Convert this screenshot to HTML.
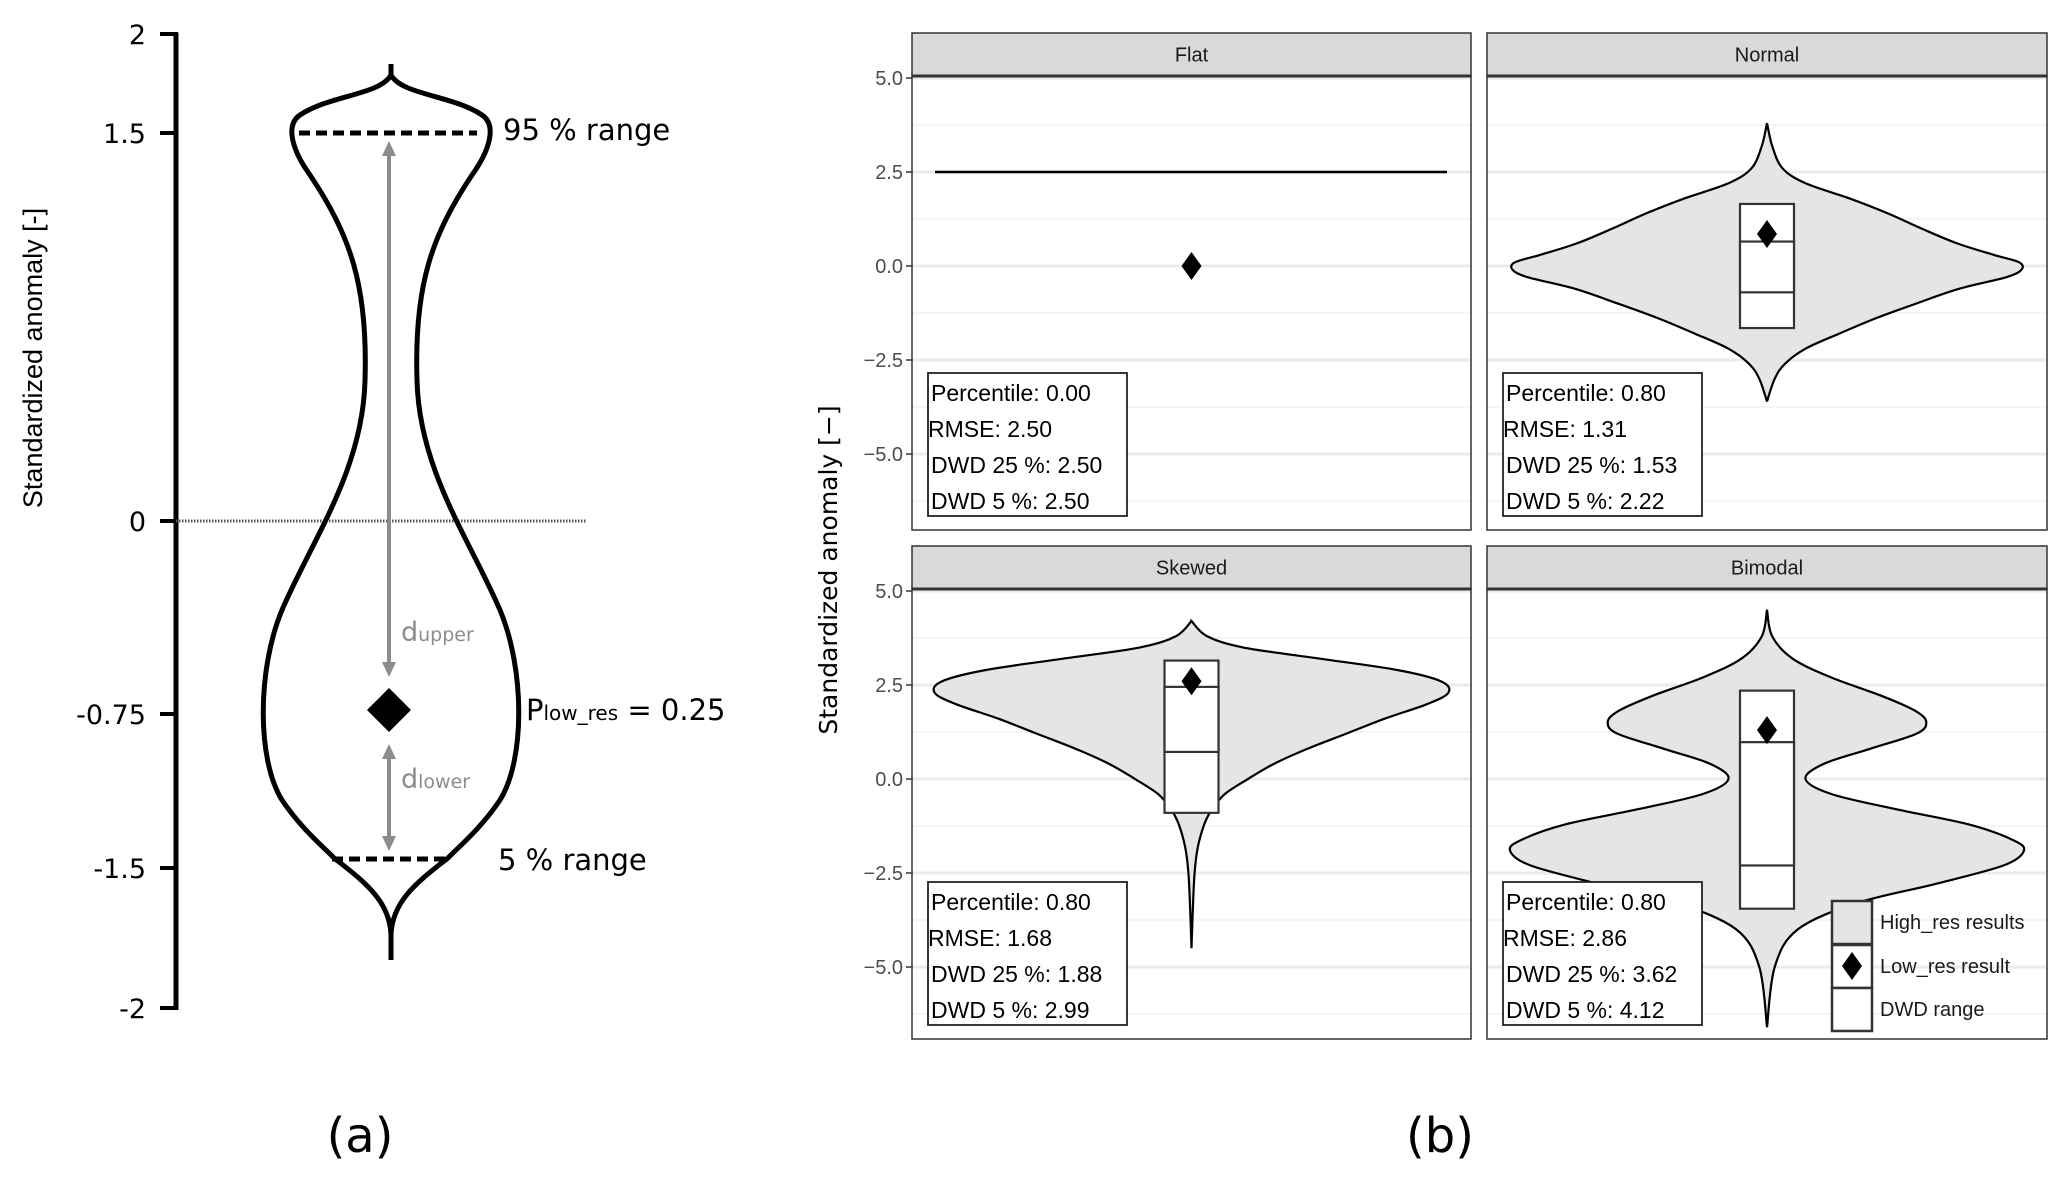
<!DOCTYPE html>
<html><head><meta charset="utf-8">
<style>
html,body{margin:0;padding:0;background:#fff;}
svg{display:block;font-family:"Liberation Sans Narrow","Liberation Sans",sans-serif;}
</style></head>
<body>
<svg id="fig" width="2067" height="1178" viewBox="0 0 2067 1178" xmlns="http://www.w3.org/2000/svg">
<g id="panel-a" font-family="'DejaVu Sans','Liberation Sans',sans-serif">
  <line x1="176" y1="33" x2="176" y2="1010" stroke="#000" stroke-width="5"/>
  <g stroke="#000" stroke-width="4">
    <line x1="160" y1="34" x2="178" y2="34"/><line x1="160" y1="133" x2="178" y2="133"/>
    <line x1="160" y1="521" x2="178" y2="521"/><line x1="160" y1="714" x2="178" y2="714"/>
    <line x1="160" y1="868" x2="178" y2="868"/><line x1="160" y1="1008" x2="178" y2="1008"/>
  </g>
  <g font-size="27" text-anchor="end" fill="#000">
    <text x="146" y="44">2</text><text x="146" y="143">1.5</text><text x="146" y="531">0</text>
    <text x="146" y="724">-0.75</text><text x="146" y="878">-1.5</text><text x="146" y="1018">-2</text>
  </g>
  <text transform="translate(42,358) rotate(-90)" text-anchor="middle" font-family="'Liberation Sans Narrow','Liberation Sans',sans-serif" font-size="27">Standardized anomaly [-]</text>
  <line x1="176" y1="521" x2="587" y2="521" stroke="#555" stroke-width="3" stroke-dasharray="1.5,1.5"/>
  <path fill="none" stroke="#000" stroke-width="5"
    d="M391,64 L391,75 C380,95 330,95 300,115 C285,125 292,150 310,175 C350,235 368,285 365,380 C363,470 312,540 282,610 C257,670 257,760 282,800 C302,830 327,850 334,858 C362,880 390,900 391,935 L391,960
       M391,75 C402,95 452,95 482,115 C497,125 490,150 472,175 C432,235 414,285 417,380 C419,470 470,540 500,610 C525,670 525,760 500,800 C480,830 455,850 448,858 C420,880 392,900 391,935"/>
  <line x1="299" y1="133" x2="477" y2="133" stroke="#000" stroke-width="5" stroke-dasharray="11,6"/>
  <line x1="332" y1="859" x2="450" y2="859" stroke="#000" stroke-width="5" stroke-dasharray="11,6"/>
  <g stroke="#8c8c8c" stroke-width="4" fill="#8c8c8c">
    <line x1="389" y1="150" x2="389" y2="665"/>
    <polygon points="389,141 382,156 396,156" stroke="none"/>
    <polygon points="389,677 382,662 396,662" stroke="none"/>
    <line x1="389" y1="755" x2="389" y2="840"/>
    <polygon points="389,744 382,759 396,759" stroke="none"/>
    <polygon points="389,851 382,836 396,836" stroke="none"/>
  </g>
  <polygon points="389,688 411,710 389,732 367,710" fill="#000"/>
  <text x="401" y="641" fill="#8c8c8c" font-size="27">d<tspan font-size="19">upper</tspan></text>
  <text x="401" y="788" fill="#8c8c8c" font-size="27">d<tspan font-size="19">lower</tspan></text>
  <text x="503" y="140" font-size="29">95 % range</text>
  <text x="498" y="870" font-size="29">5 % range</text>
  <text x="526" y="720" font-size="29">P<tspan font-size="20">low_res</tspan>  = 0.25</text>
  <text x="360" y="1152" font-size="48" text-anchor="middle">(a)</text>
</g>
<g id="panel-b"></g>
<text x="1440" y="1152" font-size="48" text-anchor="middle" font-family="'DejaVu Sans','Liberation Sans',sans-serif">(b)</text>
<text transform="translate(837,570) rotate(-90)" text-anchor="middle" font-family="'DejaVu Sans','Liberation Sans',sans-serif" font-size="25">Standardized anomaly [−]</text>
</svg>
<script>
const facetNames = ["Flat","Normal","Skewed","Bimodal"];
const yTicks = [5.0, 2.5, 0.0, -2.5, -5.0];
const yTickLabels = ["5.0","2.5","0.0","\u22122.5","\u22125.0"];
const yMinor = [3.75, 1.25, -1.25, -3.75, -6.25];
const normalY = [3.8,3.2,2.6,2.2,1.8,1.4,1.0,0.6,0.3,0.1,-0.1,-0.3,-0.6,-1.0,-1.4,-1.8,-2.2,-2.6,-3.0,-3.6];
const normalW = [0,0.02,0.06,0.15,0.32,0.47,0.6,0.74,0.88,0.98,0.99,0.93,0.75,0.58,0.42,0.28,0.15,0.07,0.03,0];
const skewedY = [4.2,3.8,3.5,3.2,2.9,2.6,2.3,2.0,1.6,1.2,0.8,0.4,0.0,-0.4,-0.8,-1.2,-1.8,-2.5,-3.5,-4.5];
const skewedW = [0,0.06,0.2,0.5,0.8,0.97,1.0,0.92,0.75,0.6,0.45,0.32,0.22,0.13,0.08,0.05,0.025,0.012,0.005,0];
const bimodalY = [4.5,3.8,3.2,2.7,2.2,1.8,1.5,1.2,0.8,0.4,0.0,-0.4,-0.8,-1.2,-1.6,-1.9,-2.3,-2.8,-3.3,-4.0,-5.0,-6.6];
const bimodalW = [0,0.02,0.1,0.25,0.45,0.58,0.62,0.58,0.4,0.22,0.15,0.25,0.5,0.78,0.95,1.0,0.92,0.65,0.35,0.12,0.03,0];
const flatValue = 2.5;
const boxTop = [null, 1.65, 3.15, 2.35];
const box25Hi = [null, 0.65, 2.45, 0.98];
const box25Lo = [null, -0.7, 0.72, -2.3];
const boxBottom = [null, -1.65, -0.9, -3.45];
const lowRes = [0.0, 0.85, 2.6, 1.3];
const statPercentile = ["0.00","0.80","0.80","0.80"];
const statRMSE = ["2.50","1.31","1.68","2.86"];
const statDWD25 = ["2.50","1.53","1.88","3.62"];
const statDWD5 = ["2.50","2.22","2.99","4.12"];
const legendLabels = ["High_res results","Low_res result","DWD range"];

const NS = "http://www.w3.org/2000/svg";
const root = document.getElementById('panel-b');
function mk(tag, attrs, parent){ const e=document.createElementNS(NS,tag); for(const k in attrs) e.setAttribute(k,attrs[k]); (parent||root).appendChild(e); return e; }
const panels = [
  {x0:912,x1:1471,sTop:33,sBot:76,bot:530,y5:78},
  {x0:1487,x1:2047,sTop:33,sBot:76,bot:530,y5:78},
  {x0:912,x1:1471,sTop:546,sBot:589,bot:1039,y5:591},
  {x0:1487,x1:2047,sTop:546,sBot:589,bot:1039,y5:591}
];
const pxPerUnit = 37.6;
const halfMax = 257, boxHalf = 27;
const shapes = [null,[normalY,normalW],[skewedY,skewedW],[bimodalY,bimodalW]];
function smoothPath(pts){
  let d="M"+pts[0][0]+","+pts[0][1];
  for(let i=0;i<pts.length-1;i++){
    const p0=pts[Math.max(0,i-1)],p1=pts[i],p2=pts[i+1],p3=pts[Math.min(pts.length-1,i+2)];
    const c1=[p1[0]+(p2[0]-p0[0])/6,p1[1]+(p2[1]-p0[1])/6];
    const c2=[p2[0]-(p3[0]-p1[0])/6,p2[1]-(p3[1]-p1[1])/6];
    d+=" C"+c1[0].toFixed(1)+","+c1[1].toFixed(1)+" "+c2[0].toFixed(1)+","+c2[1].toFixed(1)+" "+p2[0].toFixed(1)+","+p2[1].toFixed(1);
  }
  return d;
}
panels.forEach((p,i)=>{
  const g = mk('g',{});
  
  
  const Y = v => p.y5 + (5 - v)*pxPerUnit;
  const cx = (p.x0+p.x1)/2;
  const bg = mk('rect',{x:p.x0,y:p.sBot,width:p.x1-p.x0,height:p.bot-p.sBot,fill:'#fff'},g);
  
  
  yMinor.forEach(v=>{ const l=mk('line',{x1:p.x0,x2:p.x1,y1:Y(v),y2:Y(v),stroke:'#f2f2f2','stroke-width':1.5},g);
      });
  yTicks.forEach((v,j)=>{ const l=mk('line',{x1:p.x0,x2:p.x1,y1:Y(v),y2:Y(v),stroke:'#ebebeb','stroke-width':3},g);
     
    if(i%2===0){
      const t=mk('line',{x1:p.x0-6,x2:p.x0,y1:Y(v),y2:Y(v),stroke:'#333','stroke-width':1.5},g);
       
      const tx=mk('text',{x:p.x0-9,y:Y(v)+7,'text-anchor':'end','font-size':20,fill:'#4d4d4d'},g);
      tx.textContent=yTickLabels[j];
       
    }
  });
  if(shapes[i]){
    const [ys,ws]=shapes[i];
    const right=ys.map((v,k)=>[cx+ws[k]*halfMax,Y(v)]);
    const left=ys.map((v,k)=>[cx-ws[k]*halfMax,Y(v)]).reverse();
    const d=smoothPath(right)+" L"+smoothPath(left).slice(1)+" Z";
    const vp=mk('path',{d:d,fill:'#e5e5e5',stroke:'#000','stroke-width':2.2},g);
    
    
    const b=mk('rect',{x:cx-boxHalf,y:Y(boxTop[i]),width:2*boxHalf,height:Y(boxBottom[i])-Y(boxTop[i]),fill:'#fff',stroke:'#333','stroke-width':2.2},g);
     
    const b2=mk('rect',{x:cx-boxHalf,y:Y(box25Hi[i]),width:2*boxHalf,height:Y(box25Lo[i])-Y(box25Hi[i]),fill:'#fff',stroke:'#333','stroke-width':2.2},g);
     
  } else {
    const fl=mk('line',{x1:p.x0+23,x2:p.x1-24,y1:Y(flatValue),y2:Y(flatValue),stroke:'#000','stroke-width':2.5},g);
     
  }
  const dy=Y(lowRes[i]);
  const dm=mk('polygon',{points:`${cx},${dy-14} ${cx+10},${dy} ${cx},${dy+14} ${cx-10},${dy}`,fill:'#000'},g);
   
  const border=mk('rect',{x:p.x0,y:p.sBot,width:p.x1-p.x0,height:p.bot-p.sBot,fill:'none',stroke:'#333','stroke-width':1.5},g);
   
  const st=mk('rect',{x:p.x0,y:p.sTop,width:p.x1-p.x0,height:p.sBot-p.sTop,fill:'#d9d9d9',stroke:'#333','stroke-width':1.5},g);
   
  const stl=mk('line',{x1:p.x0,x2:p.x1,y1:p.sBot,y2:p.sBot,stroke:'#333','stroke-width':3},g);
   
  const stt=mk('text',{x:cx,y:(p.sTop+p.sBot)/2+7,'text-anchor':'middle','font-size':20,fill:'#1a1a1a'},g);
  stt.textContent=facetNames[i];
   
  const bx=p.x0+16, byT=p.bot-157;
  const sb=mk('rect',{x:bx,y:byT,width:199,height:143,fill:'#fff',stroke:'#222','stroke-width':1.8},g);
   
  const lines=["Percentile: "+statPercentile[i],"RMSE: "+statRMSE[i]," DWD 25 %: "+statDWD25[i],"DWD 5 %: "+statDWD5[i]];
  const offs=[5,2,5,5];
  lines.forEach((s,k)=>{ const t=mk('text',{x:bx+offs[k]-2,y:byT+28+k*36,'font-size':23,fill:'#000','xml:space':'preserve'},g);
    t.textContent=s;   });
});
const lg=mk('g',{});


const lx=1832, ly=[901,945,988];
legendLabels.forEach((s,k)=>{
  const r=mk('rect',{x:lx,y:ly[k],width:40,height:43,fill:k===0?'#e5e5e5':'#fff',stroke:'#333','stroke-width':2.5},lg);
   
  if(k===1){ const d=mk('polygon',{points:`${lx+20},${ly[k]+7} ${lx+30},${ly[k]+21} ${lx+20},${ly[k]+35} ${lx+10},${ly[k]+21}`,fill:'#000'},lg);
      }
  const t=mk('text',{x:lx+48,y:ly[k]+28,'font-size':20,fill:'#1a1a1a'},lg);
  t.textContent=s;  
});
</script>
</body></html>
